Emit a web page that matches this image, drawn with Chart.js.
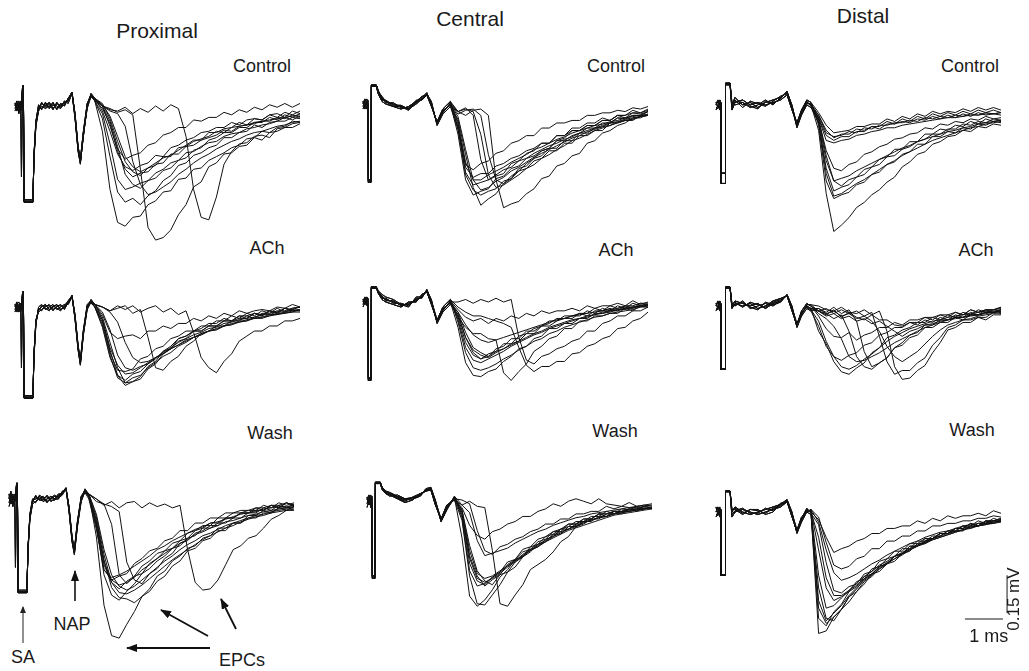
<!DOCTYPE html>
<html>
<head>
<meta charset="utf-8">
<script src="https://cdn.jsdelivr.net/npm/chart.js@4.4.1/dist/chart.umd.min.js"></script>
<style>
  body { margin: 0; background: #fff; width: 1029px; height: 671px; position: relative; overflow: hidden;
         font-family: "Liberation Sans", Arial, Helvetica, sans-serif; color: #1a1a1a; }
  canvas { position: absolute; }
  .lbl { position: absolute; transform: translate(-50%, -50%); line-height: 1; white-space: nowrap; font-size: 18px; }
  .ttl { font-size: 21px; }
  svg { position: absolute; left: 0; top: 0; }
</style>
</head>
<body>

<div class="lbl ttl" style="left:157px;top:30px">Proximal</div>
<div class="lbl ttl" style="left:470px;top:18px">Central</div>
<div class="lbl ttl" style="left:863px;top:15px">Distal</div>

<div class="lbl" style="left:262px;top:66px">Control</div>
<div class="lbl" style="left:616px;top:66px">Control</div>
<div class="lbl" style="left:970px;top:66px">Control</div>
<div class="lbl" style="left:267px;top:248px">ACh</div>
<div class="lbl" style="left:616px;top:250px">ACh</div>
<div class="lbl" style="left:976px;top:250px">ACh</div>
<div class="lbl" style="left:270px;top:433px">Wash</div>
<div class="lbl" style="left:615px;top:431px">Wash</div>
<div class="lbl" style="left:972px;top:430px">Wash</div>

<div class="lbl" style="left:23px;top:657px">SA</div>
<div class="lbl" style="left:72px;top:624px">NAP</div>
<div class="lbl" style="left:242px;top:660px">EPCs</div>

<svg width="1029" height="671">
  <defs>
    <marker id="ahThin" markerWidth="7" markerHeight="6" refX="6" refY="3" orient="auto" markerUnits="userSpaceOnUse">
      <path d="M0,0 L7,3 L0,6 z" fill="#222"/>
    </marker>
    <marker id="ah" markerWidth="11" markerHeight="8" refX="10" refY="4" orient="auto" markerUnits="userSpaceOnUse">
      <path d="M0,0 L11,4 L0,8 z" fill="#111"/>
    </marker>
  </defs>
  <line x1="23" y1="643" x2="23" y2="607" stroke="#222" stroke-width="1" marker-end="url(#ahThin)"/>
  <line x1="75" y1="601" x2="75" y2="571" stroke="#111" stroke-width="1.6" marker-end="url(#ah)"/>
  <line x1="210" y1="648" x2="127" y2="648" stroke="#111" stroke-width="1.8" marker-end="url(#ah)"/>
  <line x1="208" y1="636" x2="161" y2="610" stroke="#111" stroke-width="1.8" marker-end="url(#ah)"/>
  <line x1="236" y1="629" x2="221" y2="599" stroke="#111" stroke-width="1.8" marker-end="url(#ah)"/>
</svg>

<canvas id="proxControl" width="330" height="220"></canvas>
<canvas id="centControl" width="330" height="220"></canvas>
<canvas id="distControl" width="330" height="220"></canvas>
<canvas id="proxACh" width="330" height="220"></canvas>
<canvas id="centACh" width="330" height="220"></canvas>
<canvas id="distACh" width="330" height="220"></canvas>
<canvas id="proxWash" width="330" height="220"></canvas>
<canvas id="centWash" width="330" height="220"></canvas>
<canvas id="distWash" width="330" height="220"></canvas>

<script>
// time grids (ms): common early part of the sweeps, then the part where the EPCs spread out
const proxHeadT = [0,.05,.1,.15,.17,.2,.22,.24,.47,.5,.55,.62,.7,.8,.9,1.0,1.1,1.2,1.3,1.4,1.5,1.58,1.66,1.72,1.8,1.9,2.0];
const centHeadT = [0,.05,.1,.13,.14,.21,.22,.35,.4,.5,.6,.8,1.0,1.2,1.4,1.55,1.68,1.8,1.95,2.1,2.3];
const distHeadT = [0,.05,.1,.12,.13,.24,.25,.37,.42,.5,.7,.9,1.1,1.3,1.5,1.7,1.87,2.0,2.13,2.25,2.39,2.5];
const proxTailT = [2.1,2.3,2.5,2.7,2.9,3.1,3.3,3.5,3.7,3.9,4.1,4.3,4.5,4.7,4.9,5.1,5.3,5.5,5.7,5.9,6.1,6.3,6.5,6.7,6.9,7.1,7.3,7.5];
const centTailT = [2.5,2.7,2.9,3.1,3.3,3.5,3.7,3.9,4.1,4.3,4.5,4.7,4.9,5.1,5.3,5.5,5.7,5.9,6.1,6.3,6.5,6.7,6.9,7.1,7.3,7.5];
const distTailT = [2.7,2.9,3.1,3.3,3.5,3.7,3.9,4.1,4.3,4.5,4.7,4.9,5.1,5.3,5.5,5.7,5.9,6.1,6.3,6.5,6.7,6.9,7.1,7.3,7.5];

// voltages (mV, relative to baseline)
const proxControlHeads = [
  [0,.02,-.03,.01,-.28,.08,.08,-.38,-.38,-.2,-.07,-.01,.01,0,.015,-.01,.01,0,.015,.025,.055,-.04,-.17,-.22,-.12,0,.04],
  [.01,-.01,.01,-.02,0,.08,.08,-.38,-.38,-.19,-.06,0,-.01,.01,-.01,.005,-.01,.01,0,.03,.05,-.03,-.16,-.21,-.1,.01,.045],
  [-.02,0,.02,0,.01,.07,.07,-.37,-.37,-.21,-.08,-.02,0,-.01,0,.01,0,-.01,.02,.01,.05,-.05,-.18,-.23,-.11,-.01,.04],
  [.01,-.02,0,.02,-.01,.075,.075,-.375,-.375,-.2,-.065,.005,-.015,.015,-.005,.015,-.015,.005,.01,.02,.05,-.045,-.175,-.225,-.115,.005,.035],
  [-.01,.01,-.02,-.01,0,.08,.08,-.38,-.38,-.195,-.075,-.015,.015,-.005,.01,-.015,.015,-.005,.005,.03,.055,-.035,-.165,-.215,-.105,-.005,.05]
];
const proxControlTails = [
  [.03,0,-.015,-.02,-.005,-.03,-.01,-.025,0,-.02,.005,-.01,-.12,-.33,-.44,-.45,-.36,-.23,-.18,-.15,-.145,-.12,-.115,-.125,-.09,-.085,-.07,-.065],
  [.03,0,-.01,-.025,-.015,-.035,-.25,-.48,-.53,-.52,-.49,-.43,-.39,-.32,-.3,-.24,-.225,-.19,-.185,-.16,-.155,-.125,-.135,-.105,-.1,-.085,-.085,-.07],
  [.02,-.1,-.33,-.46,-.475,-.44,-.435,-.39,-.375,-.34,-.335,-.29,-.285,-.25,-.245,-.215,-.2,-.185,-.165,-.155,-.13,-.125,-.1,-.105,-.085,-.08,-.06,-.065],
  [.03,-.02,-.1,-.19,-.24,-.255,-.235,-.225,-.195,-.2,-.165,-.155,-.135,-.125,-.105,-.1,-.085,-.085,-.065,-.075,-.055,-.05,-.055,-.035,-.045,-.025,-.035,-.02],
  [.03,.01,-.05,-.14,-.22,-.26,-.275,-.245,-.225,-.205,-.195,-.175,-.155,-.135,-.135,-.105,-.105,-.09,-.085,-.065,-.075,-.05,-.055,-.035,-.03,-.045,-.02,-.03],
  [.02,0,-.06,-.16,-.27,-.31,-.325,-.295,-.285,-.255,-.245,-.215,-.205,-.175,-.165,-.135,-.125,-.105,-.105,-.085,-.085,-.065,-.065,-.045,-.055,-.035,-.045,-.03],
  [.02,-.05,-.2,-.34,-.38,-.365,-.39,-.355,-.335,-.295,-.275,-.235,-.225,-.195,-.185,-.165,-.155,-.125,-.125,-.105,-.1,-.075,-.085,-.065,-.06,-.045,-.055,-.04],
  [.03,0,-.08,-.17,-.21,-.195,-.185,-.155,-.145,-.115,-.105,-.085,-.085,-.055,-.06,-.045,-.045,-.025,-.035,-.015,-.025,-.005,-.015,.005,-.005,.01,-.005,.01],
  [.025,-.01,-.07,-.18,-.25,-.28,-.265,-.26,-.23,-.225,-.19,-.19,-.16,-.155,-.135,-.125,-.115,-.095,-.1,-.08,-.075,-.07,-.06,-.055,-.05,-.045,-.04,-.035],
  [.03,.005,-.04,-.12,-.2,-.24,-.26,-.245,-.235,-.2,-.2,-.165,-.16,-.14,-.13,-.12,-.1,-.105,-.085,-.08,-.075,-.065,-.06,-.06,-.045,-.05,-.035,-.045],
  [.02,-.03,-.15,-.29,-.33,-.32,-.305,-.295,-.265,-.25,-.225,-.215,-.185,-.18,-.16,-.145,-.14,-.12,-.11,-.105,-.09,-.085,-.075,-.07,-.06,-.06,-.045,-.05],
  [.03,0,-.02,-.03,-.08,-.22,-.31,-.35,-.34,-.32,-.3,-.27,-.25,-.225,-.205,-.19,-.17,-.155,-.14,-.13,-.115,-.105,-.1,-.09,-.08,-.075,-.065,-.06]
];

const centControlHeads = [
  [0,.02,-.02,0,-.31,-.31,.075,.075,.05,.02,.01,0,-.01,-.02,0,.02,.04,0,-.08,-.03,0],
  [.01,-.02,.01,0,-.3,-.3,.07,.07,.04,.01,0,-.01,-.02,-.01,.01,.03,.035,-.01,-.07,-.02,.01],
  [-.02,0,.02,.01,-.31,-.31,.075,.075,.05,.03,.01,-.01,-.01,-.025,.01,.02,.04,.01,-.085,-.04,-.01],
  [.01,0,-.015,.015,-.305,-.305,.07,.07,.045,.025,.005,.005,-.015,-.015,.005,.025,.045,-.005,-.075,-.035,.005],
  [-.01,.015,0,-.01,-.3,-.3,.075,.075,.055,.015,.015,-.005,-.005,-.02,.015,.015,.035,.005,-.08,-.025,-.005]
];
const centControlTails = [
  [-.12,-.3,-.36,-.345,-.335,-.295,-.285,-.255,-.245,-.215,-.205,-.185,-.175,-.145,-.145,-.125,-.115,-.095,-.095,-.075,-.075,-.055,-.06,-.045,-.045,-.03],
  [-.08,-.25,-.29,-.275,-.275,-.245,-.235,-.215,-.205,-.185,-.175,-.155,-.155,-.125,-.125,-.105,-.105,-.085,-.085,-.065,-.065,-.045,-.055,-.035,-.04,-.03],
  [-.06,-.2,-.33,-.4,-.375,-.355,-.315,-.295,-.265,-.255,-.225,-.215,-.185,-.185,-.155,-.155,-.125,-.125,-.105,-.105,-.075,-.075,-.065,-.065,-.045,-.045],
  [-.03,-.015,-.045,-.22,-.3,-.285,-.275,-.235,-.225,-.195,-.185,-.155,-.155,-.125,-.125,-.095,-.095,-.075,-.075,-.055,-.065,-.045,-.045,-.035,-.035,-.025],
  [-.03,-.045,-.025,-.02,-.045,-.3,-.41,-.395,-.385,-.355,-.335,-.295,-.285,-.245,-.235,-.205,-.195,-.155,-.145,-.115,-.105,-.085,-.075,-.055,-.055,-.04],
  [-.04,-.025,-.02,-.045,-.2,-.3,-.315,-.285,-.265,-.235,-.215,-.185,-.175,-.145,-.135,-.105,-.105,-.085,-.085,-.065,-.065,-.045,-.045,-.025,-.035,-.02],
  [-.1,-.24,-.26,-.235,-.225,-.195,-.185,-.155,-.145,-.125,-.125,-.095,-.095,-.075,-.075,-.065,-.065,-.045,-.045,-.035,-.035,-.025,-.03,-.015,-.02,-.01],
  [-.1,-.28,-.34,-.36,-.345,-.335,-.305,-.295,-.255,-.245,-.215,-.205,-.175,-.175,-.145,-.145,-.115,-.115,-.095,-.085,-.075,-.055,-.055,-.045,-.045,-.03],
  [-.07,-.23,-.3,-.3,-.28,-.265,-.25,-.23,-.215,-.2,-.18,-.17,-.155,-.14,-.13,-.115,-.105,-.095,-.085,-.08,-.07,-.065,-.055,-.05,-.045,-.04],
  [-.09,-.27,-.32,-.31,-.3,-.28,-.26,-.25,-.225,-.215,-.195,-.18,-.165,-.155,-.14,-.13,-.115,-.105,-.095,-.09,-.075,-.07,-.06,-.055,-.05,-.045],
  [-.05,-.18,-.3,-.34,-.33,-.305,-.29,-.265,-.25,-.23,-.21,-.195,-.18,-.165,-.15,-.135,-.125,-.11,-.1,-.09,-.085,-.07,-.065,-.06,-.05,-.045],
  [-.03,-.02,-.03,-.12,-.28,-.33,-.32,-.3,-.28,-.255,-.24,-.215,-.2,-.18,-.165,-.145,-.135,-.12,-.105,-.095,-.085,-.075,-.065,-.06,-.05,-.045]
];

const distControlHeads = [
  [0,.02,-.01,0,-.31,-.31,.087,.087,0,.03,0,.01,-.01,.01,.02,.03,.05,-.01,-.08,-.03,.01,0],
  [.01,-.01,.02,.01,-.27,-.27,.08,.08,-.02,.01,.02,0,.01,0,.01,.02,.04,-.02,-.07,-.02,.02,.01],
  [-.02,0,.01,-.01,-.27,-.27,.085,.085,.01,0,.01,-.01,0,.02,0,.03,.05,0,-.09,-.04,0,-.01],
  [.01,.01,-.02,.005,-.27,-.27,.08,.08,.005,.02,-.01,.015,.005,-.005,.015,.035,.045,-.015,-.085,-.035,.005,.005],
  [-.01,-.015,.015,0,-.27,-.27,.085,.085,-.01,.015,.01,-.005,-.015,.015,.005,.025,.055,-.005,-.075,-.025,.015,-.005]
];
const distControlTails = [
  [-.1,-.35,-.5,-.475,-.445,-.405,-.385,-.355,-.335,-.305,-.285,-.245,-.225,-.195,-.185,-.155,-.145,-.125,-.12,-.1,-.105,-.085,-.09,-.075,-.08],
  [-.08,-.3,-.37,-.355,-.345,-.315,-.305,-.275,-.265,-.235,-.225,-.195,-.185,-.155,-.155,-.125,-.125,-.105,-.11,-.09,-.095,-.075,-.08,-.065,-.07],
  [-.05,-.2,-.3,-.32,-.295,-.285,-.255,-.245,-.215,-.205,-.175,-.175,-.145,-.145,-.115,-.115,-.095,-.1,-.08,-.085,-.065,-.075,-.055,-.065,-.06],
  [-.06,-.18,-.25,-.26,-.235,-.225,-.195,-.185,-.165,-.155,-.135,-.13,-.115,-.11,-.09,-.095,-.075,-.08,-.065,-.07,-.055,-.06,-.045,-.055,-.05],
  [-.04,-.1,-.13,-.115,-.115,-.095,-.1,-.085,-.085,-.065,-.075,-.055,-.065,-.045,-.055,-.035,-.045,-.03,-.04,-.025,-.035,-.02,-.03,-.02,-.03],
  [-.05,-.12,-.14,-.125,-.125,-.105,-.105,-.085,-.095,-.075,-.075,-.065,-.07,-.055,-.06,-.045,-.055,-.04,-.05,-.035,-.045,-.03,-.04,-.035,-.04],
  [-.03,-.08,-.11,-.105,-.1,-.085,-.085,-.075,-.075,-.055,-.065,-.045,-.055,-.035,-.045,-.025,-.035,-.025,-.03,-.015,-.025,-.01,-.02,-.01,-.02],
  [-.07,-.25,-.34,-.325,-.315,-.285,-.275,-.245,-.235,-.205,-.2,-.175,-.165,-.145,-.135,-.115,-.115,-.095,-.095,-.075,-.08,-.065,-.07,-.055,-.06],
  [-.04,-.11,-.125,-.12,-.105,-.11,-.09,-.095,-.08,-.08,-.07,-.07,-.06,-.065,-.05,-.055,-.045,-.05,-.04,-.045,-.035,-.04,-.03,-.035,-.03],
  [-.06,-.22,-.3,-.29,-.28,-.26,-.245,-.23,-.215,-.2,-.185,-.17,-.16,-.145,-.135,-.125,-.115,-.105,-.1,-.09,-.085,-.075,-.07,-.065,-.06],
  [-.05,-.14,-.15,-.14,-.135,-.12,-.115,-.105,-.1,-.09,-.09,-.08,-.075,-.07,-.065,-.06,-.055,-.05,-.05,-.045,-.04,-.04,-.035,-.035,-.03],
  [-.07,-.27,-.36,-.35,-.33,-.31,-.295,-.275,-.255,-.235,-.22,-.2,-.185,-.17,-.155,-.14,-.13,-.12,-.11,-.1,-.09,-.085,-.075,-.07,-.065]
];

const proxAChHeads = [
  [0,.02,-.02,.01,-.24,.06,.06,-.36,-.36,-.18,-.06,-.01,0,.01,-.01,0,.01,-.01,0,.02,.045,-.04,-.16,-.22,-.1,0,.02],
  [.01,-.01,.01,-.02,0,.06,.06,-.36,-.36,-.2,-.07,0,.01,-.01,0,.01,-.01,0,.01,.01,.04,-.03,-.15,-.21,-.09,.01,.025],
  [-.02,.01,.02,0,.01,.055,.055,-.35,-.35,-.19,-.05,-.02,-.01,0,.01,-.01,0,.01,-.01,.02,.045,-.05,-.17,-.23,-.11,-.01,.02],
  [.01,-.02,0,.015,-.01,.06,.06,-.355,-.355,-.19,-.065,-.005,-.015,.005,.005,-.015,.005,.005,-.005,.015,.04,-.045,-.165,-.225,-.105,.005,.015],
  [-.01,.015,-.015,-.01,.005,.055,.055,-.36,-.36,-.185,-.055,-.015,.005,-.005,-.015,.005,-.005,-.015,.005,.025,.045,-.035,-.155,-.215,-.095,-.005,.03]
];
const proxAChTails = [
  [0,-.08,-.2,-.27,-.29,-.265,-.255,-.225,-.205,-.175,-.165,-.125,-.115,-.095,-.085,-.065,-.065,-.045,-.055,-.035,-.035,-.025,-.03,-.015,-.02,-.005,-.01,0],
  [.01,-.04,-.14,-.24,-.3,-.295,-.285,-.245,-.225,-.185,-.165,-.135,-.125,-.095,-.095,-.075,-.075,-.055,-.055,-.035,-.045,-.025,-.035,-.015,-.025,-.005,-.015,-.01],
  [0,-.06,-.18,-.25,-.255,-.245,-.205,-.195,-.165,-.155,-.125,-.115,-.095,-.095,-.075,-.075,-.055,-.055,-.035,-.045,-.025,-.035,-.015,-.025,-.005,-.02,-.005,0],
  [.01,-.03,-.1,-.125,-.115,-.11,-.125,-.095,-.095,-.075,-.085,-.065,-.065,-.045,-.055,-.035,-.045,-.025,-.035,-.015,-.025,-.015,-.01,-.015,0,-.005,.01,0],
  [.01,0,-.015,-.005,.005,-.025,-.01,-.12,-.24,-.25,-.215,-.195,-.155,-.135,-.105,-.095,-.075,-.075,-.055,-.055,-.035,-.045,-.025,-.025,-.015,-.015,-.005,0],
  [.01,0,-.015,.005,-.01,.005,-.02,-.005,.005,-.02,-.005,-.03,-.015,-.1,-.2,-.24,-.26,-.215,-.185,-.135,-.115,-.095,-.095,-.075,-.075,-.055,-.055,-.045],
  [0,-.05,-.17,-.27,-.31,-.295,-.275,-.235,-.215,-.175,-.155,-.125,-.115,-.095,-.095,-.075,-.075,-.055,-.055,-.045,-.045,-.025,-.035,-.015,-.025,-.005,-.015,-.01],
  [.01,-.05,-.16,-.23,-.265,-.26,-.24,-.22,-.2,-.18,-.16,-.14,-.125,-.11,-.1,-.085,-.08,-.065,-.06,-.05,-.045,-.04,-.03,-.03,-.02,-.02,-.01,-.015],
  [0,-.07,-.19,-.28,-.3,-.28,-.27,-.24,-.22,-.195,-.18,-.155,-.14,-.12,-.11,-.095,-.09,-.075,-.07,-.055,-.055,-.04,-.04,-.03,-.03,-.02,-.02,-.01],
  [.01,-.02,-.09,-.19,-.24,-.25,-.235,-.225,-.2,-.185,-.165,-.15,-.13,-.12,-.105,-.095,-.085,-.075,-.065,-.06,-.05,-.045,-.04,-.035,-.025,-.025,-.015,-.015],
  [.01,0,-.02,-.06,-.14,-.2,-.22,-.215,-.2,-.185,-.165,-.15,-.135,-.12,-.11,-.095,-.09,-.075,-.07,-.06,-.055,-.045,-.045,-.035,-.03,-.025,-.02,-.02]
];

const centAChHeads = [
  [0,.02,-.01,0,-.31,-.31,.06,.06,.04,.02,.01,0,-.01,-.01,.01,.02,.047,0,-.08,-.03,0],
  [.01,-.01,.02,.01,-.3,-.3,.055,.055,.035,.01,0,-.01,-.02,0,0,.03,.04,-.01,-.075,-.02,.01],
  [-.02,0,.01,-.01,-.31,-.31,.06,.06,.045,.03,.02,.01,-.01,-.02,.02,.02,.045,.01,-.085,-.04,-.01],
  [.01,0,-.015,.015,-.305,-.305,.055,.055,.04,.025,.005,.005,-.015,-.005,.005,.025,.04,-.005,-.08,-.035,.005],
  [-.01,.015,0,-.005,-.3,-.3,.06,.06,.035,.015,.015,-.005,-.005,-.015,.015,.015,.05,.005,-.07,-.025,-.005]
];
const centAChTails = [
  [-.1,-.24,-.29,-.295,-.275,-.265,-.235,-.215,-.185,-.175,-.145,-.135,-.105,-.105,-.085,-.085,-.065,-.065,-.045,-.045,-.035,-.035,-.025,-.025,-.015,-.015],
  [-.06,-.16,-.21,-.225,-.215,-.195,-.185,-.165,-.155,-.125,-.125,-.095,-.095,-.075,-.065,-.065,-.045,-.055,-.035,-.035,-.025,-.035,-.015,-.025,-.005,-.015],
  [-.04,-.12,-.18,-.2,-.215,-.185,-.175,-.145,-.145,-.115,-.115,-.095,-.085,-.065,-.065,-.055,-.055,-.035,-.045,-.025,-.035,-.015,-.025,-.005,-.015,-.01],
  [-.03,-.06,-.075,-.065,-.085,-.065,-.075,-.055,-.065,-.045,-.055,-.035,-.045,-.035,-.035,-.025,-.035,-.015,-.025,-.015,-.015,-.005,-.015,.005,-.01,0],
  [-.06,-.1,-.125,-.125,-.145,-.15,-.28,-.31,-.275,-.245,-.195,-.175,-.145,-.135,-.105,-.105,-.075,-.075,-.055,-.055,-.045,-.045,-.025,-.035,-.015,-.02],
  [0,.01,-.005,.01,0,.015,0,.01,-.14,-.23,-.245,-.215,-.205,-.185,-.175,-.155,-.145,-.115,-.115,-.085,-.075,-.055,-.055,-.035,-.035,-.02],
  [-.02,-.04,-.055,-.055,-.065,-.075,-.085,-.1,-.18,-.25,-.275,-.255,-.255,-.235,-.235,-.205,-.2,-.175,-.165,-.145,-.135,-.105,-.1,-.075,-.065,-.04],
  [-.05,-.14,-.2,-.225,-.205,-.195,-.165,-.165,-.135,-.125,-.105,-.095,-.075,-.075,-.055,-.055,-.045,-.045,-.025,-.035,-.015,-.025,-.015,-.015,-.005,-.005],
  [-.07,-.18,-.23,-.24,-.225,-.21,-.195,-.175,-.16,-.145,-.13,-.12,-.105,-.095,-.085,-.075,-.065,-.06,-.05,-.045,-.04,-.03,-.03,-.02,-.02,-.01],
  [-.05,-.14,-.19,-.21,-.22,-.2,-.185,-.17,-.155,-.14,-.125,-.115,-.1,-.09,-.08,-.07,-.065,-.055,-.05,-.04,-.035,-.03,-.025,-.02,-.015,-.01],
  [-.04,-.09,-.13,-.15,-.16,-.15,-.14,-.13,-.12,-.11,-.1,-.09,-.08,-.07,-.065,-.055,-.05,-.045,-.04,-.035,-.03,-.025,-.02,-.02,-.015,-.01],
  [-.08,-.2,-.26,-.27,-.26,-.245,-.225,-.21,-.19,-.175,-.155,-.145,-.125,-.115,-.1,-.09,-.08,-.07,-.06,-.055,-.045,-.04,-.035,-.03,-.02,-.02]
];

const distAChHeads = [
  [0,.02,-.01,0,-.25,-.25,.075,.075,0,.02,.01,0,.01,-.01,.01,.02,.043,-.01,-.08,-.03,0,-.01],
  [.01,-.01,.02,.01,-.25,-.25,.07,.07,-.01,.01,0,.01,-.01,0,.02,.03,.04,-.02,-.075,-.02,.01,0],
  [-.02,0,.01,-.01,-.25,-.25,.075,.075,.01,0,.02,-.01,0,.01,0,.02,.045,0,-.085,-.04,-.01,-.02],
  [.01,.01,-.02,.005,-.25,-.25,.07,.07,.005,.015,-.005,.015,.005,-.005,.015,.025,.04,-.015,-.08,-.035,.005,.005],
  [-.01,-.015,.015,0,-.25,-.25,.075,.075,-.005,.005,.015,-.005,-.015,.015,.005,.015,.045,-.005,-.07,-.025,-.005,-.015]
];
const distAChTails = [
  [-.1,-.15,-.22,-.26,-.27,-.245,-.225,-.185,-.165,-.125,-.115,-.095,-.085,-.065,-.065,-.045,-.055,-.035,-.045,-.025,-.035,-.015,-.025,-.015,-.01],
  [-.04,-.09,-.12,-.125,-.105,-.135,-.115,-.105,-.085,-.085,-.065,-.075,-.055,-.055,-.045,-.045,-.035,-.035,-.025,-.035,-.015,-.025,-.015,-.015,-.005],
  [-.01,-.025,-.005,-.03,-.015,-.06,-.18,-.24,-.225,-.205,-.165,-.145,-.115,-.105,-.075,-.075,-.055,-.055,-.045,-.045,-.035,-.035,-.025,-.025,-.015],
  [0,-.015,-.02,-.005,-.025,-.03,-.015,-.035,-.02,-.1,-.24,-.29,-.285,-.255,-.235,-.185,-.145,-.095,-.085,-.065,-.065,-.045,-.055,-.035,-.035],
  [-.02,-.01,-.03,-.015,-.03,-.02,-.04,-.025,-.12,-.22,-.27,-.255,-.255,-.225,-.205,-.155,-.125,-.085,-.075,-.055,-.055,-.045,-.045,-.025,-.03],
  [-.02,-.03,-.05,-.035,-.1,-.2,-.24,-.25,-.225,-.205,-.165,-.155,-.125,-.115,-.085,-.085,-.065,-.065,-.045,-.055,-.035,-.035,-.025,-.025,-.015],
  [-.02,-.035,-.015,-.045,-.025,-.045,-.055,-.035,-.055,-.055,-.075,-.08,-.065,-.075,-.055,-.065,-.045,-.055,-.035,-.045,-.025,-.035,-.015,-.025,-.02],
  [-.08,-.16,-.2,-.215,-.195,-.185,-.155,-.145,-.115,-.105,-.085,-.085,-.065,-.065,-.045,-.055,-.035,-.045,-.025,-.035,-.015,-.025,-.015,-.015,-.005],
  [-.02,-.04,-.03,-.05,-.04,-.06,-.05,-.07,-.06,-.08,-.1,-.12,-.1,-.09,-.075,-.07,-.06,-.055,-.045,-.045,-.035,-.035,-.025,-.025,-.02],
  [-.06,-.14,-.2,-.24,-.25,-.235,-.21,-.19,-.165,-.14,-.12,-.105,-.09,-.08,-.07,-.06,-.055,-.045,-.04,-.035,-.03,-.025,-.02,-.02,-.015],
  [-.01,-.03,-.02,-.04,-.03,-.05,-.04,-.06,-.1,-.16,-.2,-.22,-.2,-.18,-.15,-.12,-.095,-.075,-.065,-.055,-.05,-.04,-.035,-.03,-.025],
  [-.03,-.05,-.08,-.13,-.2,-.22,-.215,-.2,-.185,-.165,-.145,-.13,-.115,-.1,-.085,-.075,-.065,-.055,-.05,-.045,-.04,-.035,-.03,-.025,-.02]
];

const proxWashHeads = [
  [0,.03,-.03,.01,-.27,.063,.063,-.37,-.37,-.19,-.07,-.01,.01,0,.01,-.01,0,.01,.01,.02,.043,-.04,-.16,-.21,-.1,0,.03],
  [.02,-.02,.01,-.01,0,.06,.06,-.37,-.37,-.2,-.06,0,0,.01,-.01,0,.01,0,0,.03,.04,-.03,-.15,-.2,-.09,.01,.035],
  [-.03,0,.02,0,.01,.06,.06,-.36,-.36,-.21,-.08,-.02,-.01,0,0,.01,-.01,0,.02,.02,.04,-.05,-.17,-.22,-.11,-.01,.03],
  [.01,-.02,0,.02,-.005,.06,.06,-.365,-.365,-.2,-.065,-.005,-.015,.015,.005,-.015,.005,.015,.005,.015,.04,-.045,-.165,-.215,-.105,.005,.025],
  [-.015,.015,-.015,-.01,.005,.063,.063,-.37,-.37,-.195,-.075,-.015,.015,-.005,-.005,.015,-.005,-.005,.015,.025,.045,-.035,-.155,-.205,-.095,-.005,.04]
];
const proxWashTails = [
  [.02,-.15,-.42,-.54,-.55,-.495,-.445,-.385,-.355,-.305,-.285,-.245,-.225,-.195,-.185,-.155,-.145,-.115,-.115,-.095,-.095,-.065,-.065,-.045,-.055,-.035,-.035,-.03],
  [.02,0,-.025,-.01,-.035,-.015,-.01,-.035,-.015,-.03,-.02,-.035,-.025,-.2,-.33,-.36,-.355,-.32,-.26,-.2,-.185,-.155,-.145,-.115,-.08,-.065,-.045,-.045],
  [.02,-.01,-.02,-.03,-.05,-.25,-.32,-.335,-.295,-.275,-.235,-.215,-.175,-.165,-.135,-.125,-.105,-.105,-.075,-.075,-.055,-.055,-.045,-.045,-.025,-.035,-.015,-.025],
  [0,-.12,-.28,-.32,-.305,-.295,-.255,-.235,-.205,-.195,-.165,-.155,-.125,-.125,-.095,-.095,-.075,-.075,-.055,-.055,-.045,-.045,-.035,-.035,-.025,-.025,-.015,-.025],
  [.01,-.08,-.24,-.35,-.39,-.395,-.41,-.385,-.365,-.325,-.305,-.265,-.245,-.205,-.195,-.165,-.155,-.125,-.125,-.095,-.095,-.075,-.075,-.055,-.055,-.035,-.045,-.03],
  [.01,-.1,-.26,-.33,-.355,-.325,-.305,-.265,-.245,-.215,-.205,-.175,-.165,-.135,-.125,-.105,-.105,-.075,-.075,-.055,-.055,-.045,-.045,-.025,-.035,-.015,-.025,-.015],
  [.02,-.1,-.3,-.38,-.4,-.365,-.335,-.295,-.275,-.245,-.225,-.195,-.185,-.155,-.145,-.115,-.115,-.095,-.095,-.075,-.075,-.055,-.055,-.035,-.045,-.025,-.035,-.02],
  [.02,0,-.02,-.1,-.3,-.335,-.305,-.295,-.255,-.235,-.205,-.195,-.165,-.155,-.125,-.115,-.095,-.095,-.075,-.075,-.055,-.055,-.035,-.045,-.025,-.035,-.015,-.025],
  [.01,-.09,-.25,-.32,-.34,-.33,-.31,-.28,-.26,-.235,-.215,-.195,-.175,-.16,-.14,-.13,-.115,-.105,-.09,-.085,-.075,-.065,-.06,-.05,-.045,-.04,-.035,-.03],
  [.02,-.06,-.2,-.3,-.345,-.36,-.345,-.32,-.295,-.27,-.245,-.225,-.2,-.18,-.165,-.145,-.135,-.12,-.105,-.095,-.085,-.075,-.065,-.06,-.05,-.045,-.04,-.035],
  [.01,-.11,-.28,-.31,-.3,-.285,-.265,-.245,-.225,-.2,-.185,-.165,-.15,-.135,-.12,-.11,-.095,-.09,-.08,-.07,-.06,-.055,-.05,-.04,-.035,-.03,-.03,-.025],
  [.02,-.07,-.22,-.33,-.37,-.375,-.36,-.34,-.315,-.29,-.265,-.24,-.22,-.2,-.18,-.16,-.145,-.13,-.115,-.105,-.09,-.08,-.07,-.065,-.055,-.05,-.045,-.04]
];

const centWashHeads = [
  [0,.02,-.03,0,-.31,-.31,.07,.07,.047,.03,.025,.012,0,.008,.02,.04,.045,-.01,-.08,-.03,.01],
  [.01,-.02,.01,.01,-.3,-.3,.065,.065,.04,.025,.02,.005,-.01,0,.025,.035,.04,-.02,-.075,-.02,0],
  [-.03,0,.02,-.01,-.31,-.31,.07,.07,.05,.035,.03,.015,.005,.01,.015,.045,.05,0,-.085,-.04,.015],
  [.01,0,-.02,.015,-.305,-.305,.065,.065,.045,.025,.015,.02,.005,.003,.015,.04,.04,-.015,-.085,-.035,.005],
  [-.015,.015,0,-.005,-.3,-.3,.07,.07,.05,.035,.025,.008,-.005,.012,.025,.035,.05,-.005,-.075,-.025,.01]
];
const centWashTails = [
  [-.15,-.38,-.42,-.395,-.355,-.305,-.275,-.235,-.225,-.185,-.175,-.145,-.135,-.115,-.105,-.085,-.085,-.065,-.065,-.045,-.055,-.035,-.04,-.025,-.035,-.03],
  [-.08,-.3,-.41,-.415,-.375,-.335,-.285,-.265,-.225,-.205,-.175,-.165,-.135,-.135,-.105,-.105,-.085,-.085,-.065,-.065,-.045,-.055,-.035,-.045,-.03,-.035],
  [-.02,-.005,-.025,-.03,-.2,-.41,-.42,-.375,-.335,-.275,-.255,-.235,-.205,-.165,-.145,-.105,-.095,-.075,-.075,-.055,-.055,-.045,-.045,-.035,-.035,-.03],
  [0,-.015,-.12,-.2,-.215,-.185,-.175,-.155,-.145,-.125,-.115,-.095,-.095,-.075,-.075,-.055,-.055,-.045,-.045,-.025,-.035,-.025,-.03,-.025,-.02,-.025],
  [-.06,-.25,-.32,-.335,-.305,-.285,-.245,-.235,-.195,-.185,-.155,-.145,-.125,-.115,-.095,-.095,-.075,-.075,-.055,-.055,-.045,-.045,-.035,-.04,-.025,-.035],
  [-.05,-.22,-.3,-.34,-.315,-.295,-.255,-.235,-.205,-.195,-.165,-.155,-.125,-.125,-.095,-.095,-.075,-.075,-.055,-.055,-.045,-.045,-.04,-.035,-.035,-.03],
  [-.03,-.1,-.14,-.155,-.125,-.115,-.095,-.085,-.065,-.065,-.045,-.035,-.015,-.025,-.005,.005,-.005,-.015,.005,-.015,-.02,-.025,-.01,-.025,-.02,-.015],
  [-.04,-.18,-.28,-.32,-.335,-.295,-.285,-.245,-.225,-.195,-.185,-.155,-.145,-.115,-.115,-.095,-.085,-.075,-.055,-.065,-.045,-.045,-.035,-.035,-.025,-.03],
  [-.05,-.23,-.31,-.325,-.31,-.29,-.265,-.245,-.22,-.2,-.18,-.165,-.145,-.13,-.115,-.105,-.09,-.08,-.07,-.065,-.055,-.05,-.045,-.04,-.035,-.03],
  [-.07,-.28,-.34,-.33,-.305,-.285,-.26,-.24,-.215,-.195,-.175,-.16,-.14,-.125,-.115,-.1,-.09,-.08,-.07,-.065,-.055,-.05,-.045,-.04,-.035,-.03],
  [-.04,-.2,-.29,-.31,-.3,-.28,-.26,-.24,-.22,-.2,-.185,-.165,-.15,-.135,-.12,-.11,-.1,-.09,-.08,-.07,-.06,-.055,-.05,-.045,-.04,-.035],
  [-.02,-.05,-.16,-.22,-.21,-.2,-.19,-.17,-.155,-.14,-.125,-.115,-.1,-.09,-.08,-.07,-.065,-.055,-.05,-.045,-.04,-.035,-.03,-.03,-.025,-.02]
];

const distWashHeads = [
  [0,.02,-.02,0,-.25,-.25,.083,.083,0,.02,0,-.01,0,.01,.02,.03,.047,-.01,-.08,-.03,.01,0],
  [.02,-.01,.01,.01,-.25,-.25,.08,.08,-.02,0,.01,0,-.01,0,.01,.02,.04,-.02,-.075,-.02,0,.01],
  [-.02,0,.02,-.01,-.25,-.25,.083,.083,.01,.01,-.01,.01,.01,-.01,0,.03,.05,0,-.085,-.04,0,-.01],
  [.01,.01,-.01,.005,-.25,-.25,.08,.08,.005,.015,-.005,.01,.005,-.005,.015,.025,.045,-.015,-.08,-.035,.005,.005],
  [-.01,-.015,.015,0,-.25,-.25,.083,.083,-.01,.005,.015,-.005,-.005,.015,.005,.035,.04,-.005,-.07,-.025,.015,-.005]
];
const distWashTails = [
  [-.48,-.47,-.415,-.385,-.335,-.315,-.275,-.255,-.225,-.205,-.175,-.165,-.145,-.135,-.115,-.105,-.085,-.085,-.065,-.065,-.055,-.055,-.035,-.045,-.03],
  [-.38,-.44,-.415,-.385,-.335,-.305,-.265,-.245,-.215,-.205,-.175,-.165,-.135,-.135,-.105,-.105,-.085,-.085,-.065,-.065,-.045,-.055,-.035,-.035,-.025],
  [-.3,-.42,-.43,-.385,-.355,-.315,-.285,-.245,-.235,-.205,-.195,-.165,-.155,-.125,-.125,-.105,-.095,-.075,-.075,-.055,-.065,-.045,-.045,-.035,-.035],
  [-.15,-.3,-.35,-.335,-.315,-.275,-.265,-.225,-.215,-.185,-.175,-.145,-.145,-.115,-.115,-.095,-.095,-.075,-.075,-.055,-.055,-.035,-.045,-.025,-.035],
  [-.05,-.2,-.31,-.32,-.295,-.285,-.245,-.235,-.195,-.185,-.155,-.155,-.125,-.125,-.105,-.105,-.085,-.085,-.065,-.065,-.045,-.055,-.035,-.035,-.025],
  [-.03,-.1,-.16,-.145,-.135,-.115,-.105,-.085,-.085,-.065,-.065,-.055,-.055,-.035,-.045,-.025,-.035,-.015,-.025,-.015,-.015,-.005,-.015,.005,-.005],
  [-.02,-.12,-.21,-.225,-.215,-.185,-.175,-.145,-.145,-.115,-.115,-.095,-.095,-.075,-.075,-.055,-.055,-.045,-.045,-.035,-.035,-.025,-.025,-.015,-.02],
  [-.42,-.45,-.395,-.365,-.315,-.295,-.255,-.245,-.215,-.205,-.175,-.165,-.135,-.135,-.115,-.105,-.085,-.085,-.075,-.075,-.055,-.055,-.045,-.045,-.035],
  [-.25,-.38,-.37,-.34,-.31,-.28,-.255,-.235,-.21,-.195,-.175,-.16,-.145,-.13,-.12,-.105,-.095,-.085,-.075,-.07,-.06,-.055,-.045,-.04,-.035],
  [-.35,-.43,-.4,-.37,-.33,-.3,-.27,-.25,-.225,-.205,-.185,-.17,-.15,-.135,-.125,-.11,-.1,-.09,-.08,-.07,-.065,-.055,-.05,-.045,-.04],
  [-.1,-.26,-.33,-.33,-.31,-.29,-.265,-.245,-.22,-.2,-.185,-.165,-.15,-.135,-.12,-.11,-.1,-.09,-.08,-.07,-.06,-.055,-.05,-.04,-.035],
  [-.04,-.15,-.24,-.27,-.26,-.245,-.225,-.205,-.19,-.17,-.155,-.14,-.125,-.115,-.1,-.09,-.08,-.075,-.065,-.055,-.05,-.045,-.04,-.035,-.03]
];

// calibration bar
const scaleBarMs = 1;
const scaleBarMv = 0.15;

// page position (px) of t = 0, V = 0 for each panel; 38 px per ms, 253 px per mV
const panels = [
  { id: 'proxControl', headT: proxHeadT, tailT: proxTailT, heads: proxControlHeads, tails: proxControlTails, ox: 15, oy: 106 },
  { id: 'centControl', headT: centHeadT, tailT: centTailT, heads: centControlHeads, tails: centControlTails, ox: 363, oy: 104 },
  { id: 'distControl', headT: distHeadT, tailT: distTailT, heads: distControlHeads, tails: distControlTails, ox: 716, oy: 105 },
  { id: 'proxACh', headT: proxHeadT, tailT: proxTailT, heads: proxAChHeads, tails: proxAChTails, ox: 15, oy: 307 },
  { id: 'centACh', headT: centHeadT, tailT: centTailT, heads: centAChHeads, tails: centAChTails, ox: 363, oy: 302 },
  { id: 'distACh', headT: distHeadT, tailT: distTailT, heads: distAChHeads, tails: distAChTails, ox: 716, oy: 306 },
  { id: 'proxWash', headT: proxHeadT, tailT: proxTailT, heads: proxWashHeads, tails: proxWashTails, ox: 9, oy: 499 },
  { id: 'centWash', headT: centHeadT, tailT: centTailT, heads: centWashHeads, tails: centWashTails, ox: 367, oy: 500 },
  { id: 'distWash', headT: distHeadT, tailT: distTailT, heads: distWashHeads, tails: distWashTails, ox: 716, oy: 512 }
];

const PX_MS = 38, PX_MV = 253, W = 330, H = 220, PAD_L = 20, PAD_T = 60;

const scaleBar = {
  id: 'scaleBar',
  afterDraw(chart) {
    const { ctx, scales: { x, y } } = chart;
    const t0 = 6.55, vH = -0.423, tV = 7.66, vTop = -0.25;
    ctx.save();
    ctx.strokeStyle = '#666';
    ctx.lineWidth = 1.5;
    ctx.beginPath();
    ctx.moveTo(x.getPixelForValue(t0), y.getPixelForValue(vH));
    ctx.lineTo(x.getPixelForValue(t0 + scaleBarMs), y.getPixelForValue(vH));
    ctx.moveTo(x.getPixelForValue(tV), y.getPixelForValue(vTop));
    ctx.lineTo(x.getPixelForValue(tV), y.getPixelForValue(vTop - scaleBarMv));
    ctx.stroke();
    ctx.fillStyle = '#1a1a1a';
    ctx.font = '18px "Liberation Sans", Arial, sans-serif';
    ctx.textAlign = 'center';
    ctx.textBaseline = 'middle';
    ctx.fillText(scaleBarMs + ' ms', x.getPixelForValue(7.18), y.getPixelForValue(-0.494));
    ctx.translate(x.getPixelForValue(7.84), y.getPixelForValue(-0.344));
    ctx.rotate(-Math.PI / 2);
    ctx.font = '17px "Liberation Sans", Arial, sans-serif';
    ctx.fillText(scaleBarMv + ' mV', 0, 0);
    ctx.restore();
  }
};

panels.forEach(p => {
  const canvas = document.getElementById(p.id);
  canvas.style.left = (p.ox - PAD_L) + 'px';
  canvas.style.top = (p.oy - PAD_T) + 'px';

  const datasets = p.tails.map((tail, i) => {
    const head = p.heads[i % p.heads.length];
    const pts = p.headT.map((t, j) => ({ x: t, y: head[j] }))
      .concat(p.tailT.map((t, j) => ({ x: t, y: tail[j] })));
    return {
      data: pts,
      borderColor: '#111',
      borderWidth: 1,
      pointRadius: 0,
      fill: false,
      tension: 0
    };
  });

  new Chart(canvas.getContext('2d'), {
    type: 'line',
    data: { datasets },
    options: {
      responsive: false,
      animation: false,
      events: [],
      layout: { padding: 0 },
      plugins: { legend: { display: false }, tooltip: { enabled: false } },
      scales: {
        x: { type: 'linear', display: false, min: -PAD_L / PX_MS, max: (W - PAD_L) / PX_MS },
        y: { type: 'linear', display: false, min: -(H - PAD_T) / PX_MV, max: PAD_T / PX_MV }
      }
    },
    plugins: p.id === 'distWash' ? [scaleBar] : []
  });
});
</script>
</body>
</html>
